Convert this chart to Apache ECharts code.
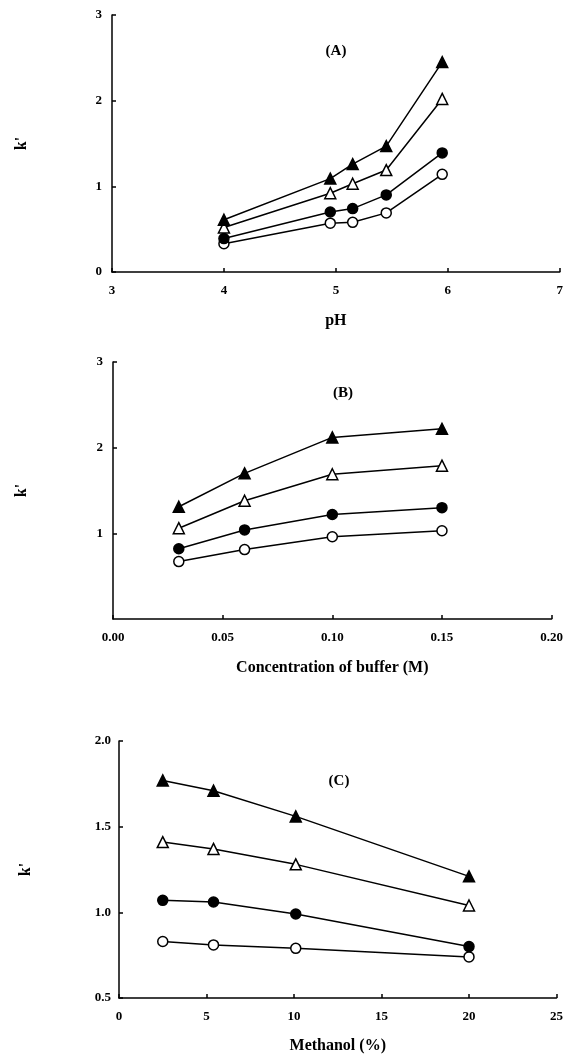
<!DOCTYPE html>
<html>
<head>
<meta charset="utf-8">
<script src="https://cdn.jsdelivr.net/npm/echarts@6/dist/echarts.min.js"></script>
<style>
html, body { margin: 0; padding: 0; background: #fff; }
#chart { width: 566px; height: 1055px; }
</style>
</head>
<body>
<div id="chart"></div>
<script>
// (A) k' vs pH
const pH = [4.0, 4.95, 5.15, 5.45, 5.95]
const aFilledTri = [0.61, 1.09, 1.26, 1.47, 2.45]
const aOpenTri = [0.52, 0.92, 1.03, 1.19, 2.02]
const aFilledCirc = [0.39, 0.70, 0.74, 0.90, 1.39]
const aOpenCirc = [0.33, 0.57, 0.58, 0.69, 1.14]

// (B) k' vs buffer concentration
const buffer = [0.03, 0.06, 0.10, 0.15]
const bFilledTri = [1.31, 1.70, 2.12, 2.22]
const bOpenTri = [1.06, 1.38, 1.69, 1.79]
const bFilledCirc = [0.82, 1.04, 1.22, 1.30]
const bOpenCirc = [0.67, 0.81, 0.96, 1.03]

// (C) k' vs methanol
const methanol = [2.5, 5.4, 10.1, 20]
const cFilledTri = [1.77, 1.71, 1.56, 1.21]
const cOpenTri = [1.41, 1.37, 1.28, 1.04]
const cFilledCirc = [1.07, 1.06, 0.99, 0.80]
const cOpenCirc = [0.83, 0.81, 0.79, 0.74]

const panelTitles = ['(A)', '(B)', '(C)']
const xNames = ['pH', 'Concentration of buffer (M)', 'Methanol (%)']

const font = 'Liberation Serif'
const black = '#000'

let pairs = (xs, ys) => xs.map((x, i) => [x, ys[i]])

// marker styles: filled triangle, open triangle, filled circle, open circle
let markers = [
    { symbol: 'triangle', fill: black, size: 11 },
    { symbol: 'triangle', fill: '#fff', size: 11 },
    { symbol: 'circle', fill: black, size: 10 },
    { symbol: 'circle', fill: '#fff', size: 10 }
]

let makeSeries = (grid, xs, sets) => sets.map((ys, i) => ({
    type: 'line',
    xAxisIndex: grid,
    yAxisIndex: grid,
    data: pairs(xs, ys),
    symbol: markers[i].symbol,
    symbolSize: markers[i].size,
    showAllSymbol: true,
    lineStyle: { color: black, width: 1.5 },
    itemStyle: { color: markers[i].fill, borderColor: black, borderWidth: 1.5 },
    z: 10 - i
}))

let axisCommon = {
    axisLine: { show: true, onZero: false, lineStyle: { color: black, width: 1.5 } },
    axisTick: { show: true, inside: true, length: 4, lineStyle: { color: black, width: 1.5 } },
    splitLine: { show: false },
    axisLabel: { color: black, fontFamily: font, fontWeight: 'bold', fontSize: 13 },
    nameLocation: 'middle',
    nameTextStyle: { color: black, fontFamily: font, fontWeight: 'bold', fontSize: 16 }
}

let myChart = echarts.init(document.getElementById('chart'))
let option = {
    animation: false,
    backgroundColor: '#fff',
    title: [
        { text: panelTitles[0], left: 336, top: 44 },
        { text: panelTitles[1], left: 343, top: 386 },
        { text: panelTitles[2], left: 339, top: 774 }
    ].map(t => Object.assign(t, {
        textAlign: 'center',
        padding: 0,
        textStyle: { color: black, fontFamily: font, fontWeight: 'bold', fontSize: 15 }
    })),
    grid: [
        { left: 112, right: 4, top: 15, height: 257 },
        { left: 113, right: 11, top: 362, height: 257 },
        { left: 119, right: 6, top: 741, height: 261 }
    ],
    xAxis: [
        Object.assign({}, axisCommon, {
            gridIndex: 0, type: 'value', min: 3, max: 7, interval: 1,
            name: xNames[0], nameGap: 41,
            axisLabel: Object.assign({}, axisCommon.axisLabel, { margin: 12 })
        }),
        Object.assign({}, axisCommon, {
            gridIndex: 1, type: 'value', min: 0, max: 0.2, interval: 0.05,
            name: xNames[1], nameGap: 41,
            axisLabel: Object.assign({}, axisCommon.axisLabel, { margin: 12, formatter: v => v.toFixed(2) })
        }),
        Object.assign({}, axisCommon, {
            gridIndex: 2, type: 'value', min: 0, max: 25, interval: 5,
            name: xNames[2], nameGap: 40,
            axisLabel: Object.assign({}, axisCommon.axisLabel, { margin: 12 })
        })
    ],
    yAxis: [
        Object.assign({}, axisCommon, {
            gridIndex: 0, type: 'value', min: 0, max: 3, interval: 1,
            name: "k'", nameGap: 82,
            axisLabel: Object.assign({}, axisCommon.axisLabel, { margin: 10 })
        }),
        Object.assign({}, axisCommon, {
            gridIndex: 1, type: 'value', min: 0, max: 3, interval: 1,
            name: "k'", nameGap: 83,
            axisLabel: Object.assign({}, axisCommon.axisLabel, { margin: 10, showMinLabel: false })
        }),
        Object.assign({}, axisCommon, {
            gridIndex: 2, type: 'value', min: 0.5, max: 2.0, interval: 0.5,
            name: "k'", nameGap: 85,
            axisLabel: Object.assign({}, axisCommon.axisLabel, { margin: 8, formatter: v => v.toFixed(1) })
        })
    ],
    series: [
        ...makeSeries(0, pH, [aFilledTri, aOpenTri, aFilledCirc, aOpenCirc]),
        ...makeSeries(1, buffer, [bFilledTri, bOpenTri, bFilledCirc, bOpenCirc]),
        ...makeSeries(2, methanol, [cFilledTri, cOpenTri, cFilledCirc, cOpenCirc])
    ]
}
option && myChart.setOption(option)
window.addEventListener('resize', function () {
    myChart.resize()
})
</script>
</body>
</html>
